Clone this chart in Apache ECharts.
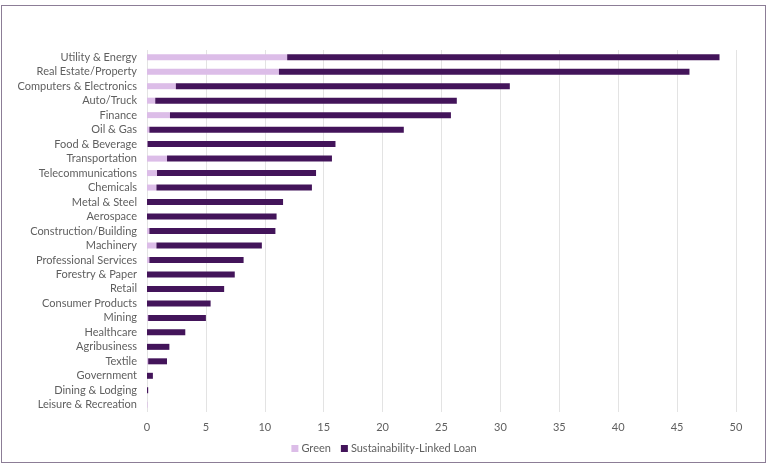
<!DOCTYPE html>
<html>
<head>
<meta charset="utf-8">
<script src="https://cdn.jsdelivr.net/npm/echarts@6/dist/echarts.min.js"></script>
<style>
html,body{margin:0;padding:0;background:#fff;}
#frame{position:absolute;left:1px;top:5px;width:765px;height:458px;border:1px solid #8c7d96;box-sizing:border-box;}
#chart{position:absolute;left:0;top:0;width:768px;height:471px;}
</style>
</head>
<body>
<div id="frame"></div>
<div id="chart"></div>
<script>
const categories = ["Utility & Energy","Real Estate/Property","Computers & Electronics","Auto/Truck","Finance","Oil & Gas","Food & Beverage","Transportation","Telecommunications","Chemicals","Metal & Steel","Aerospace","Construction/Building","Machinery","Professional Services","Forestry & Paper","Retail","Consumer Products","Mining","Healthcare","Agribusiness","Textile","Government","Dining & Lodging","Leisure & Recreation"];
const green = [11.9,11.2,2.45,0.7,1.95,0.2,0.05,1.7,0.85,0.8,0,0,0.2,0.8,0.2,0,0,0,0.1,0,0,0.1,0,0,0.05];
const totals = [48.6,46.05,30.8,26.3,25.8,21.8,16.0,15.7,14.35,14.0,11.55,11.0,10.9,9.75,8.2,7.45,6.55,5.4,5.0,3.25,1.9,1.7,0.5,0.1,0];
const sll = totals.map((t,i)=>Math.max(0, +(t-green[i]).toFixed(2)));
const xTicks = [0,5,10,15,20,25,30,35,40,45,50];

const chart = echarts.init(document.getElementById('chart'));
chart.setOption({
  animation:false,
  textStyle:{fontFamily:'Lato, "Noto Sans", sans-serif'},
  grid:{left:147,right:32,top:50,bottom:59,containLabel:false},
  xAxis:{type:'value',min:xTicks[0],max:xTicks[xTicks.length-1],interval:5,
    axisLine:{show:false},axisTick:{show:false},
    axisLabel:{color:'#5f5f5f',fontSize:11,margin:10},
    splitLine:{lineStyle:{color:'#e3e3e3',width:1}}},
  yAxis:{type:'category',data:categories,inverse:true,
    axisLine:{show:false},axisTick:{show:false},
    axisLabel:{color:'#5f5f5f',fontSize:11,margin:10}},
  legend:{bottom:12,left:'center',itemWidth:7,itemHeight:7,itemGap:10,icon:'rect',
    textStyle:{color:'#5f5f5f',fontSize:11,padding:[0,0,0,-2]},
    data:['Green','Sustainability-Linked Loan']},
  series:[
    {name:'Green',type:'bar',stack:'a',data:green,barWidth:6,itemStyle:{color:'#dcbde8'}},
    {name:'Sustainability-Linked Loan',type:'bar',stack:'a',data:sll,barWidth:6,itemStyle:{color:'#43145a'}}
  ]
});
</script>
</body>
</html>
